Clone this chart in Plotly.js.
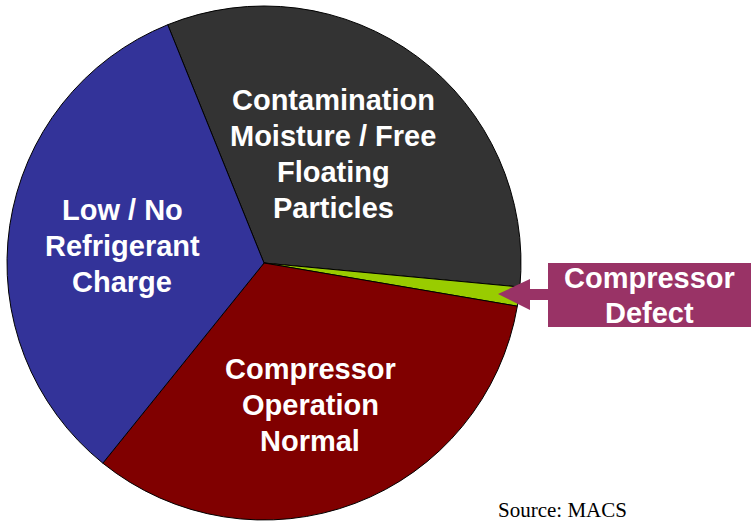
<!DOCTYPE html>
<html>
<head>
<meta charset="utf-8">
<script src="https://cdn.plot.ly/plotly-3.0.1.min.js"></script>
<style>
html,body{margin:0;padding:0;background:#ffffff;}
#chart{width:751px;height:522px;}
</style>
</head>
<body>
<div id="chart"></div>
<script>
// Data (percent of failures)
var categories = ["Contamination Moisture / Free Floating Particles", "Compressor Defect", "Compressor Operation Normal", "Low / No Refrigerant Charge"];
var values = [32.6, 1.2, 33.1, 33.1];
var colors = ["#333333", "#99cc00", "#800000", "#333399"];
var labelLines = [
  ["Contamination", "Moisture / Free", "Floating", "Particles"],
  ["Compressor", "Defect"],
  ["Compressor", "Operation", "Normal"],
  ["Low / No", "Refrigerant", "Charge"]
];
var sourceText = "Source: MACS";

var W = 751, H = 522;
function px(x){ return x / W; }
function py(y){ return 1 - y / H; }

// pie geometry (layout)
var cx = 264, cy = 263, R = 257;

var trace = {
  type: "pie",
  labels: categories,
  values: values,
  sort: false,
  direction: "clockwise",
  rotation: -22,
  textinfo: "none",
  hoverinfo: "none",
  showlegend: false,
  marker: { colors: colors, line: { color: "#000000", width: 1 } },
  domain: { x: [px(cx - R), px(cx + R)], y: [py(cy + R), py(cy - R)] }
};

// label block centres (layout)
var blockPos = [
  { x: 333, y: 100, dy: 36 },
  { x: 649, y: 278, dy: 35 },
  { x: 310, y: 369, dy: 36 },
  { x: 122, y: 210, dy: 36 }
];

var annotations = [];
labelLines.forEach(function(lines, i){
  var b = blockPos[i];
  lines.forEach(function(t, j){
    annotations.push({
      xref: "paper", yref: "paper",
      x: px(b.x), y: py(b.y + j * b.dy),
      xanchor: "center", yanchor: "middle",
      text: t, showarrow: false,
      font: { family: "Liberation Sans, Arial, sans-serif", size: 29, color: "#ffffff", weight: "bold" }
    });
  });
});
annotations.push({
  xref: "paper", yref: "paper",
  x: px(562), y: py(510),
  xanchor: "center", yanchor: "middle",
  text: sourceText, showarrow: false,
  font: { family: "Liberation Serif, Times New Roman, serif", size: 21, color: "#000000" }
});

var arrowPts = [[498,294],[530,279],[530,289],[549,289],[549,300],[530,300],[530,310]];
var arrowPath = "M " + arrowPts.map(function(p){ return px(p[0]) + "," + py(p[1]); }).join(" L ") + " Z";

var shapes = [
  { type: "rect", xref: "paper", yref: "paper",
    x0: px(548), x1: px(751), y0: py(327), y1: py(263),
    fillcolor: "#993366", line: { width: 0 }, layer: "below" },
  { type: "path", xref: "paper", yref: "paper",
    path: arrowPath, fillcolor: "#993366", line: { width: 0 }, layer: "above" }
];

var layout = {
  width: W, height: H,
  margin: { l: 0, r: 0, t: 0, b: 0, pad: 0 },
  paper_bgcolor: "#ffffff",
  plot_bgcolor: "#ffffff",
  showlegend: false,
  annotations: annotations,
  shapes: shapes
};

Plotly.newPlot("chart", [trace], layout, { displayModeBar: false, staticPlot: true });
</script>
</body>
</html>
